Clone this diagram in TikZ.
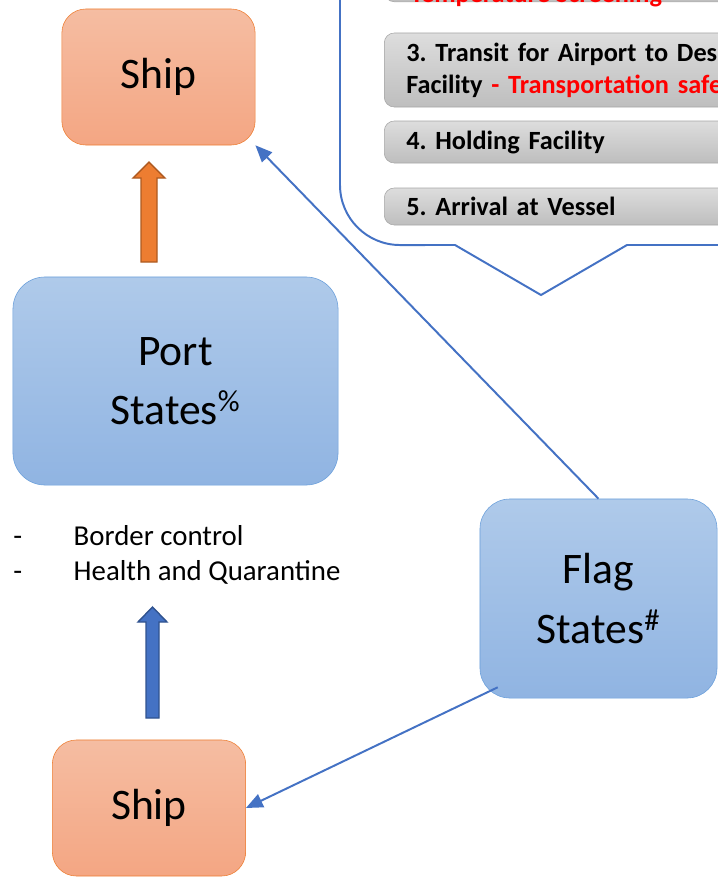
\documentclass[tikz,border=0pt]{standalone}
\usepackage{fontspec}
\setmainfont{Carlito}
\frenchspacing
\usetikzlibrary{arrows.meta,positioning,calc}
\definecolor{ShipTop}{HTML}{F5BDA2}
\definecolor{ShipLow}{HTML}{F4A683}
\definecolor{ShipEdge}{HTML}{ED7D31}
\definecolor{StateTop}{HTML}{AFCAEA}
\definecolor{StateLow}{HTML}{90B4E2}
\definecolor{StateEdge}{HTML}{6A9FDB}
\definecolor{Link}{HTML}{4472C4}
\definecolor{BarTop}{HTML}{DDDDDD}
\definecolor{BarLow}{HTML}{BEBEBE}
\definecolor{BarEdge}{HTML}{A6A6A6}
\definecolor{Alert}{HTML}{FF0000}
\definecolor{OrangeEdge}{HTML}{AE5A21}
\definecolor{BlueEdge}{HTML}{2F528F}

\tikzset{
  shipbox/.style={draw=ShipEdge,top color=ShipTop,bottom color=ShipLow,rounded corners=0.6cm,
    minimum width=4.83cm,minimum height=3.4cm,font=\fontsize{31}{42}\selectfont},
  statebox/.style={draw=StateEdge,top color=StateTop,bottom color=StateLow,rounded corners=0.8cm,
    align=center,font=\fontsize{31}{42}\selectfont},
  stepbar/.style={draw=BarEdge,top color=BarTop,bottom color=BarLow,rounded corners=0.25cm,
    anchor=west,text width=12cm,align=left,inner xsep=0.55cm,inner ysep=0pt,
    font=\bfseries\fontsize{18.7}{22.7}\selectfont},
  link/.style={Link,line width=1.4pt,-{Triangle[length=12pt,width=10pt]}}
}

\begin{document}
\begin{tikzpicture}[x=0.025cm,y=-0.025cm]
  \useasboundingbox (0,0) rectangle (718,877);
  \clip (0,0) rectangle (718,877);

  % callout with the steps
  \draw[Link,line width=1.4pt] (340,-30) -- (340,185) arc[start angle=180,end angle=270,radius=1.5cm]
    -- (455,245) -- (541,295) -- (627,245) -- (760,245);
  \node[stepbar,minimum height=1.3cm,anchor=south west] (screening) at (384,2) {};
  \node[font=\bfseries\fontsize{18.7}{22.7}\selectfont,text=Alert,anchor=base west,inner sep=0pt]
    (screenNote) at (410,2.5) {Temperature Screening};
  \foreach \n/\yc/\h/\txt in {transit/70/1.85cm/{3. Transit for Airport to Designated\\Facility {\color{Alert}- Transportation safety}},
      holding/142/1.05cm/{4. Holding Facility},arrival/206.5/0.925cm/{5. Arrival at Vessel}}
    \node[stepbar,minimum height=\h] (\n) at (384,\yc) {\txt};

  % states and ships
  \node[shipbox] (shipTop) at (158.5,77) {Ship};
  \node[statebox,minimum width=8.125cm,minimum height=5.2cm] (port) at (175.5,381) {Port\\States\textsuperscript{\%}};
  \node[statebox,minimum width=5.925cm,minimum height=4.975cm,rounded corners=0.75cm] (flag) at (598.5,598.5) {Flag\\States\textsuperscript{\#}};
  \node[shipbox] (shipBot) at (149,808) {Ship};
  \node[anchor=north west,align=left,inner sep=0pt,font=\fontsize{20.5}{24.8}\selectfont] (portNotes) at (13,525)
    {\makebox[43pt][l]{-}Border control\\\makebox[43pt][l]{-}Health and Quarantine};

  % block arrows
  \filldraw[fill=ShipEdge,draw=OrangeEdge,line width=1pt] (141,262) -- (141,178) -- (133,178) -- (149,162)
    -- (165,178) -- (157,178) -- (157,262) -- cycle;
  \filldraw[fill=Link,draw=BlueEdge,line width=1pt] (146,718) -- (146,622) -- (138,622) -- (152.5,607)
    -- (167,622) -- (159,622) -- (159,718) -- cycle;

  \draw[link] (flag.north) -- (shipTop.south east);
  \draw[link] ($(flag.south west)+(18,-11)$) -- (shipBot.east);
\end{tikzpicture}
\end{document}
